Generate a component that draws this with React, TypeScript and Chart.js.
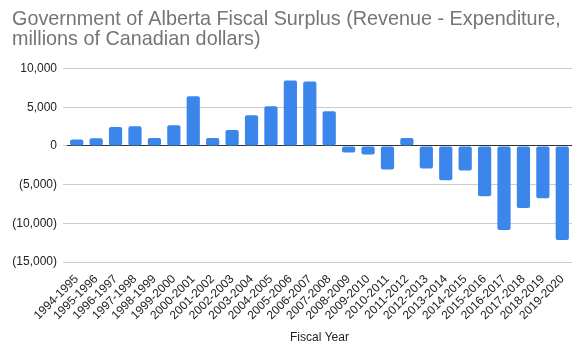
import React, { useEffect, useRef } from "react";
import { Chart, registerables } from "chart.js";

Chart.register(...registerables);

const fiscalYears = [
  "1994-1995", "1995-1996", "1996-1997", "1997-1998", "1998-1999", "1999-2000",
  "2000-2001", "2001-2002", "2002-2003", "2003-2004", "2004-2005", "2005-2006",
  "2006-2007", "2007-2008", "2008-2009", "2009-2010", "2010-2011", "2011-2012",
  "2012-2013", "2013-2014", "2014-2015", "2015-2016", "2016-2017", "2017-2018",
  "2018-2019", "2019-2020",
];

const surplus = [
  850, 1000, 2440, 2560, 1030, 2690,
  6410, 1030, 2050, 3970, 5130, 8460,
  8330, 4490, -850, -1110, -3030, 1030,
  -2900, -4440, -3160, -6500, -10850, -8030,
  -6750, -12140,
];

const yTicks = [10000, 5000, 0, -5000, -10000, -15000];

const titleLines = [
  "Government of Alberta Fiscal Surplus (Revenue - Expenditure,",
  "millions of Canadian dollars)",
];
const xAxisTitle = "Fiscal Year";

function fmt(v: number): string {
  const s = Math.abs(v).toLocaleString("en-US");
  return v < 0 ? `(${s})` : s;
}

export default function App() {
  const ref = useRef<HTMLCanvasElement | null>(null);
  useEffect(() => {
    document.body.style.margin = "0";
    const canvas = ref.current;
    if (!canvas) return;
    const chart = new Chart(canvas, {
      type: "bar",
      data: {
        labels: fiscalYears,
        datasets: [
          {
            data: surplus,
            backgroundColor: "#3a86ea",
            borderRadius: 2,
            borderSkipped: false,
            categoryPercentage: 0.68,
            barPercentage: 1,
          },
        ],
      },
      options: {
        responsive: false,
        animation: false,
        devicePixelRatio: 1,
        layout: { padding: { left: 12, right: 8, top: 0, bottom: 0 } },
        plugins: {
          legend: { display: false },
          tooltip: { enabled: false },
          title: {
            display: true,
            text: titleLines,
            align: "start",
            color: "#757575",
            font: { family: "'Liberation Sans', Arial, sans-serif", size: 19.8, weight: "normal", lineHeight: 1.0 },
            padding: { top: 10, bottom: 19 },
          },
        },
        scales: {
          x: {
            grid: { display: false },
            border: { display: false },
            ticks: {
              autoSkip: false,
              maxRotation: 45,
              minRotation: 45,
              color: "#222",
              padding: 2,
              font: { family: "'Liberation Sans', Arial, sans-serif", size: 12 },
            },
            title: {
              display: true,
              text: xAxisTitle,
              color: "#222",
              font: { family: "'Liberation Sans', Arial, sans-serif", size: 12 },
              padding: { top: 14, bottom: 10 },
            },
            afterFit: (s: any) => {
              s.height = 355 - 262;
            },
          },
          y: {
            min: -15000,
            max: 10000,
            afterBuildTicks: (s: any) => {
              s.ticks = yTicks.map((v) => ({ value: v }));
            },
            grid: {
              color: (ctx: any) => (ctx.tick && ctx.tick.value === 0 ? "#333" : "#ccc"),
              drawTicks: true,
              tickLength: 4,
              tickColor: "#ccc",
            },
            border: { display: false },
            ticks: {
              color: "#222",
              padding: 6,
              font: { family: "'Liberation Sans', Arial, sans-serif", size: 12 },
              callback: (v: any) => fmt(Number(v)),
            },
            afterFit: (s: any) => {
              s.width = 67 - 12;
            },
          },
        },
      },
    });
    return () => chart.destroy();
  }, []);
  return (
    <div style={{ width: 580, height: 355 }}>
      <canvas ref={ref} width={580} height={355} style={{ display: "block" }} />
    </div>
  );
}
